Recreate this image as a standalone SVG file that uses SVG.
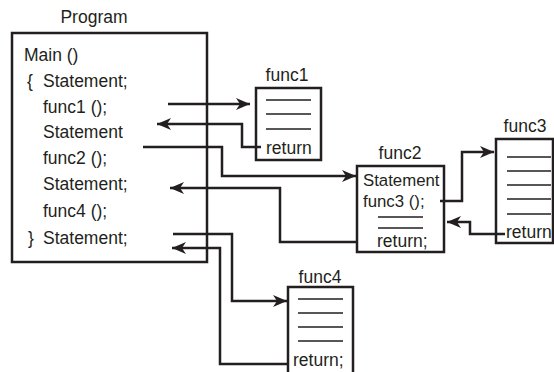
<svg xmlns="http://www.w3.org/2000/svg" width="554" height="372" viewBox="0 0 554 372">
<style>
text{font-family:"Liberation Sans",Arial,Helvetica,sans-serif;font-size:17.5px;fill:#231f20}
.box{fill:#fff;stroke:#231f20;stroke-width:2.5}
.rule{stroke:#231f20;stroke-width:1.3}
.conn{fill:none;stroke:#231f20;stroke-width:2.5}
.t{text-anchor:middle}
</style>
<defs>
<marker id="ah" markerUnits="userSpaceOnUse" markerWidth="16" markerHeight="14" refX="14" refY="6" orient="auto">
<path d="M0,0 L14,6 L0,12 L4,6 Z" fill="#231f20"/>
</marker>
</defs>
<rect width="554" height="372" fill="#fff"/>
<g id="program">
<text class="t" x="94" y="23">Program</text>
<rect class="box" x="12" y="33" width="195" height="229"/>
<text x="24" y="61">Main ()</text>
<text x="27" y="87">{<tspan x="43">Statement;</tspan></text>
<text x="43" y="113">func1 ();</text>
<text x="43" y="138">Statement</text>
<text x="43" y="164">func2 ();</text>
<text x="43" y="190">Statement;</text>
<text x="43" y="217">func4 ();</text>
<text x="28" y="244">}<tspan x="43">Statement;</tspan></text>
</g>
<g id="func1">
<text class="t" x="287" y="81">func1</text>
<rect class="box" x="256" y="88" width="65" height="72"/>
<path class="rule" d="M266,100H311M266,114H311M266,129H311"/>
<text x="266" y="154">return</text>
</g>
<g id="func2">
<text class="t" x="400" y="159">func2</text>
<rect class="box" x="357" y="166" width="87" height="86"/>
<text x="363" y="186" style="font-size:16.8px">Statement</text>
<text x="363" y="207" style="font-size:16.8px">func3 ();</text>
<path class="rule" d="M378,217H423M378,228H423"/>
<text x="377" y="247">return;</text>
</g>
<g id="func3">
<text class="t" x="525" y="132">func3</text>
<rect class="box" x="496" y="139" width="57" height="104"/>
<path class="rule" d="M507,157H551M507,171H551M507,185H551M507,199H551M507,214H551"/>
<text x="506" y="238">return</text>
</g>
<g id="func4">
<text class="t" x="320" y="283">func4</text>
<rect class="box" x="288" y="287" width="65" height="90"/>
<path class="rule" d="M298,299H343M298,313H343M298,327H343M298,341H343"/>
<text x="293" y="366">return;</text>
</g>
<g id="connectors">
<path class="conn" d="M168,104H250" marker-end="url(#ah)"/>
<path class="conn" d="M261,147H242V124H157" marker-end="url(#ah)"/>
<path class="conn" d="M143,147H222V176H356" marker-end="url(#ah)"/>
<path class="conn" d="M357,242H280V188H170" marker-end="url(#ah)"/>
<path class="conn" d="M440,201H462V152H494" marker-end="url(#ah)"/>
<path class="conn" d="M505,234H470V222H447" marker-end="url(#ah)"/>
<path class="conn" d="M173,234H232V301H287" marker-end="url(#ah)"/>
<path class="conn" d="M289,364H220V248H172" marker-end="url(#ah)"/>
</g>
</svg>
